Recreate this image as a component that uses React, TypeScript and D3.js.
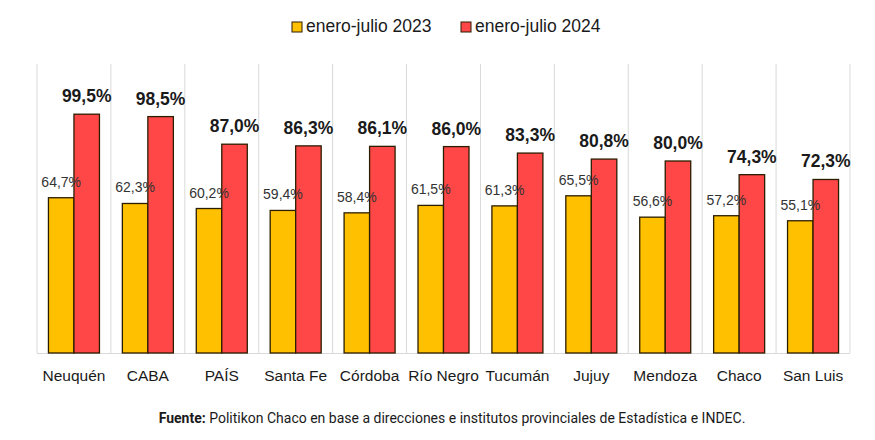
import React from "react";
import * as d3 from "d3";

const categories = ["Neuquén", "CABA", "PAÍS", "Santa Fe", "Córdoba", "Río Negro", "Tucumán", "Jujuy", "Mendoza", "Chaco", "San Luis"];
const values2023 = [64.7, 62.3, 60.2, 59.4, 58.4, 61.5, 61.3, 65.5, 56.6, 57.2, 55.1];
const values2024 = [99.5, 98.5, 87.0, 86.3, 86.1, 86.0, 83.3, 80.8, 80.0, 74.3, 72.3];
const seriesNames = ["enero-julio 2023", "enero-julio 2024"];

const W = 875, H = 440;
const fmt = (v: number) => v.toFixed(1).replace(".", ",") + "%";

export default function App() {
  const x = d3.scaleBand<string>().domain(categories).range([37, 850]).paddingInner(0).paddingOuter(0);
  const y = d3.scaleLinear().domain([0, 100]).range([353, 113]);
  const bw = x.bandwidth();
  const barW = 25.5;
  const font = "'Liberation Sans', Arial, sans-serif";
  const yellow = "#FFC000";
  const red = "#FF4747";
  const stroke = "#2b1d00";
  return (
    <svg width={W} height={H} style={{ position: "absolute", left: 0, top: 0, background: "#fff" }}>
      <rect x={0} y={0} width={W} height={H} fill="#fff" />
      {d3.range(categories.length + 1).map((i) => {
        const gx = 37 + i * bw;
        return <line key={i} x1={gx} x2={gx} y1={64} y2={353} stroke="#d9d9d9" strokeWidth={1} />;
      })}
      <line x1={37} x2={850} y1={353.5} y2={353.5} stroke="#d9d9d9" strokeWidth={1} />
      {categories.map((c, i) => {
        const cx = (x(c) as number) + bw / 2;
        return (
          <g key={c}>
            <rect x={cx - barW} y={y(values2023[i])} width={barW} height={y(0) - y(values2023[i])} fill={yellow} stroke={stroke} strokeWidth={1.3} />
            <rect x={cx} y={y(values2024[i])} width={barW} height={y(0) - y(values2024[i])} fill={red} stroke={stroke} strokeWidth={1.3} />
            <text x={cx - barW / 2} y={y(values2023[i]) - 11} textAnchor="middle" fontFamily={font} fontSize={14} fill="#333">{fmt(values2023[i])}</text>
            <text x={cx + barW / 2} y={y(values2024[i]) - 12} textAnchor="middle" fontFamily={font} fontSize={17.5} fontWeight="bold" fill="#1a1a1a">{fmt(values2024[i])}</text>
            <text x={cx} y={381} textAnchor="middle" fontFamily={font} fontSize={15.5} fill="#1a1a1a">{c}</text>
          </g>
        );
      })}
      <rect x={292} y={22} width={10} height={10} fill={yellow} stroke={stroke} strokeWidth={1} />
      <text x={306} y={32} fontFamily={font} fontSize={17.5} fill="#1a1a1a">{seriesNames[0]}</text>
      <rect x={461} y={22} width={10} height={10} fill={red} stroke={stroke} strokeWidth={1} />
      <text x={475} y={32} fontFamily={font} fontSize={17.5} fill="#1a1a1a">{seriesNames[1]}</text>
      <text x={452} y={423} textAnchor="middle" fontFamily="Roboto, sans-serif" fontSize={14} fill="#1a1a1a">
        <tspan fontWeight="bold">Fuente:</tspan> Politikon Chaco en base a direcciones e institutos provinciales de Estadística e INDEC.
      </text>
    </svg>
  );
}
